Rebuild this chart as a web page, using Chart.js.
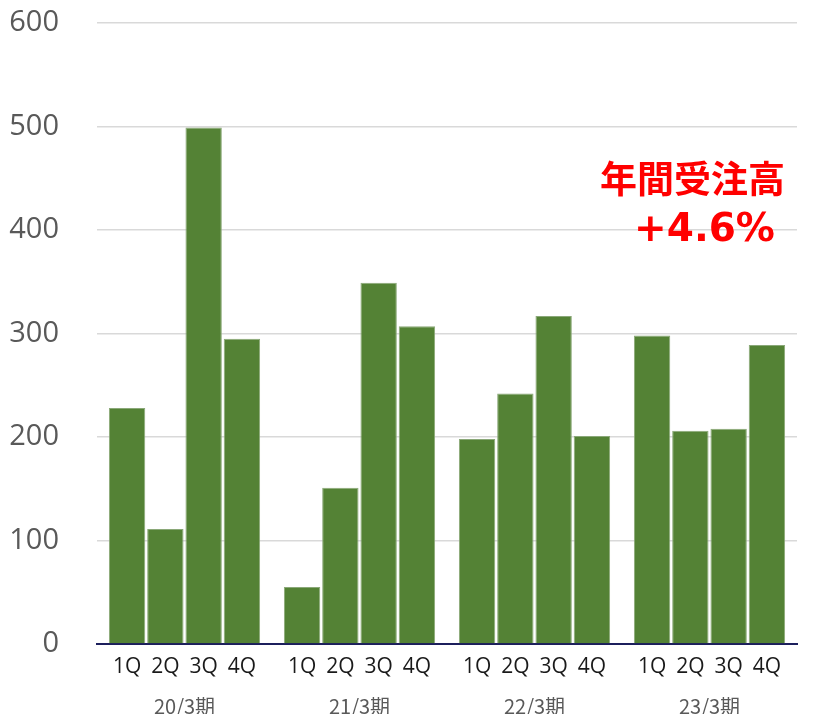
<!DOCTYPE html>
<html><head><meta charset="utf-8">
<script src="https://cdn.jsdelivr.net/npm/chart.js@4/dist/chart.umd.min.js"></script>
<style>html,body{margin:0;padding:0;background:#fff;}#wrap{width:817px;height:714px;}</style>
</head><body><div id="wrap"><canvas id="c" width="817" height="714"></canvas></div>
<script>
const periods = ['20/3期', '21/3期', '22/3期', '23/3期'];
const quarters = ['1Q', '2Q', '3Q', '4Q'];
const q1 = [228, 55, 198, 298];
const q2 = [111, 151, 242, 206];
const q3 = [499, 349, 317, 208];
const q4 = [295, 307, 201, 289];
const yTicks = [0, 100, 200, 300, 400, 500, 600];
const noteLines = ['年間受注高', '+4.6%'];

const series = [q1, q2, q3, q4];
const datasets = quarters.map((q, i) => ({
  label: q, data: series[i],
  backgroundColor: '#548235', borderColor: '#8aa878', borderWidth: 1,
  categoryPercentage: 0.875, barPercentage: 0.95
}));

const quarterLabels = {
  id: 'quarterLabels',
  afterDraw(chart) {
    const ctx = chart.ctx;
    const yb = chart.scales.y.getPixelForValue(0);
    ctx.save();
    ctx.font = '21px "Open Sans", sans-serif';
    ctx.fillStyle = '#1a1a1a';
    ctx.textAlign = 'center';
    ctx.textBaseline = 'middle';
    chart.data.datasets.forEach((ds, i) => {
      chart.getDatasetMeta(i).data.forEach(bar => {
        ctx.fillText(ds.label, bar.x, yb + 23);
      });
    });
    // annotation
    ctx.fillStyle = '#ff0000';
    const cx = chart.scales.x.getPixelForValue(3);
    ctx.font = 'bold 37px "Noto Sans CJK JP", sans-serif';
    ctx.fillText(noteLines[0], cx - 17, chart.scales.y.getPixelForValue(449));
    ctx.font = 'bold 39px "DejaVu Sans", sans-serif';
    ctx.fillText(noteLines[1], cx - 5, chart.scales.y.getPixelForValue(399));
    ctx.restore();
  }
};

new Chart(document.getElementById('c'), {
  type: 'bar',
  data: { labels: periods, datasets },
  options: {
    responsive: false, animation: false,
    layout: { padding: { top: 23, right: 20, left: 0, bottom: 0 } },
    plugins: { legend: { display: false }, tooltip: { enabled: false } },
    scales: {
      x: {
        grid: { display: false },
        border: { display: true, color: '#1c1f5c', width: 2 },
        ticks: { color: '#595959', padding: 42, font: { family: '"Noto Sans CJK JP", sans-serif', size: 20 } },
        afterFit(s) { s.height = 70; s.paddingLeft = 0; s.paddingRight = 0; }
      },
      y: {
        min: 0, max: 600,
        afterBuildTicks(s) { s.ticks = yTicks.map(v => ({ value: v })); },
        grid: { color: '#d9d9d9', lineWidth: 1.5, drawTicks: false },
        border: { display: false },
        ticks: { color: '#595959', padding: 38, font: { family: '"Open Sans", sans-serif', size: 29 } },
        afterFit(s) { s.width = 97; s.paddingTop = 0; s.paddingBottom = 0; }
      }
    }
  },
  plugins: [quarterLabels]
});
</script></body></html>
